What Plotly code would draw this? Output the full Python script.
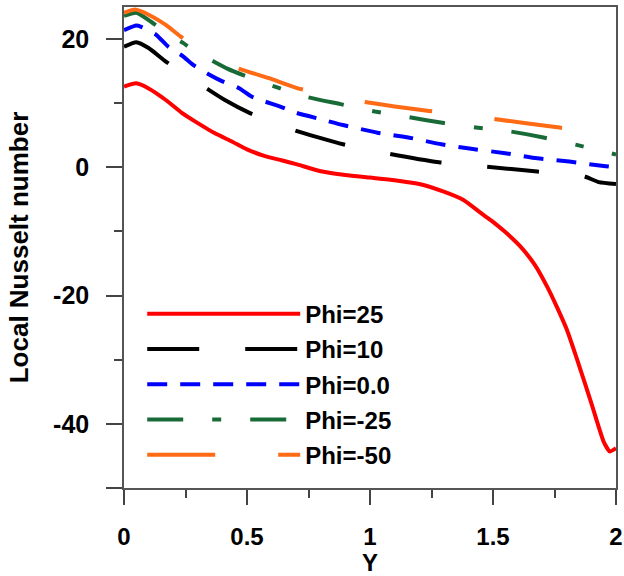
import plotly.graph_objects as go

# Phi = 25
x_p25 = [0, 0.05, 0.1, 0.17, 0.235, 0.3, 0.37, 0.44, 0.5, 0.57, 0.64, 0.7, 0.8, 0.9, 1.0, 1.1, 1.2, 1.3, 1.38, 1.45, 1.5, 1.55, 1.61, 1.67, 1.72, 1.76, 1.8, 1.85, 1.9, 1.95, 1.975, 2.0]
y_p25 = [12.6, 13.1, 12.3, 10.5, 8.5, 6.9, 5.3, 4.0, 2.8, 1.8, 1.1, 0.5, -0.6, -1.2, -1.6, -2.0, -2.6, -3.8, -5.1, -7.1, -8.5, -10.1, -12.3, -15.2, -18.6, -21.8, -25.3, -30.9, -36.8, -42.8, -44.3, -43.8]
# Phi = 10
x_p10 = [0, 0.05, 0.1, 0.17, 0.25, 0.34, 0.41, 0.51, 0.6, 0.7, 0.89, 1.08, 1.28, 1.47, 1.68, 1.87, 1.93, 2.0]
y_p10 = [18.8, 19.5, 18.6, 16.5, 14.5, 12.2, 10.5, 8.5, 7.1, 5.7, 3.6, 2.1, 0.8, 0.1, -0.65, -1.4, -2.3, -2.6]
# Phi = 0.0
x_p0 = [0, 0.05, 0.07, 0.13, 0.18, 0.24, 0.28, 0.34, 0.4, 0.47, 0.52, 0.57, 0.64, 0.7, 0.8, 0.89, 1.03, 1.15, 1.29, 1.39, 1.55, 1.68, 1.81, 1.95, 2.0]
y_p0 = [21.4, 22.1, 21.9, 20.7, 18.8, 17.3, 16.0, 14.6, 13.4, 12.3, 11.0, 10.3, 9.4, 8.5, 7.5, 6.6, 5.4, 4.7, 3.6, 3.0, 2.2, 1.4, 0.9, 0.2, 0.0]
# Phi = -25
x_m25 = [0, 0.05, 0.11, 0.17, 0.24, 0.3, 0.36, 0.42, 0.49, 0.62, 0.74, 0.88, 1.02, 1.16, 1.3, 1.43, 1.57, 1.7, 1.84, 2.0]
y_m25 = [23.6, 24.1, 22.7, 21.0, 19.4, 17.8, 16.6, 15.4, 14.3, 12.5, 11.0, 9.85, 8.7, 7.8, 6.9, 6.2, 5.6, 4.7, 3.5, 2.0]
# Phi = -50
x_m50 = [0, 0.045, 0.1, 0.17, 0.23, 0.3, 0.4, 0.47, 0.59, 0.7, 0.8, 0.97, 1.1, 1.24, 1.5, 1.77, 2.0]
y_m50 = [24.1, 24.6, 23.8, 22.2, 20.4, 18.7, 16.6, 15.35, 13.9, 12.4, 11.5, 10.25, 9.5, 8.8, 7.55, 6.2, 5.0]

names = ["Phi=25", "Phi=10", "Phi=0.0", "Phi=-25", "Phi=-50"]
colors = ["#FF0000", "#000000", "#0000FF", "#186B36", "#FF6A14"]
dashes = ["solid", "52px,46px", "20px,13px", "36px,29px,9px,29px", "68px,63px"]
xs = [x_p25, x_p10, x_p0, x_m25, x_m50]
ys = [y_p25, y_p10, y_p0, y_m25, y_m50]

FONT = "Liberation Sans, Arial, sans-serif"

fig = go.Figure()
for i in range(5):
    fig.add_trace(go.Scatter(
        x=xs[i], y=ys[i], name=names[i], mode="lines",
        line=dict(color=colors[i], width=4, dash=dashes[i], shape="spline", smoothing=0.5),
        legendgroup=names[i],
    ))

fig.update_layout(
    width=624, height=576,
    margin=dict(l=124, r=8, t=7, b=88),
    paper_bgcolor="white", plot_bgcolor="white",
    font=dict(family=FONT, size=24, color="black", weight="bold"),
    showlegend=True,
    legend=dict(
        x=0.037, y=0.408, xanchor="left", yanchor="top",
        bgcolor="rgba(0,0,0,0)", borderwidth=0,
        font=dict(family=FONT, size=24, color="black", weight="bold"),
        itemwidth=153, tracegroupgap=1,
    ),
    xaxis=dict(
        range=[0, 2], tickvals=[0, 0.5, 1, 1.5, 2], ticktext=["0", "0.5", "1", "1.5", "2"],
        ticks="outside", ticklen=15, tickwidth=1.5, tickcolor="#444",
        minor=dict(tickvals=[0.25, 0.75, 1.25, 1.75], ticks="outside", ticklen=8, tickwidth=1.5, tickcolor="#444"),
        showline=True, linecolor="#555", linewidth=1.5, mirror=True,
        showgrid=False, zeroline=False, ticklabelstandoff=11, automargin=False,
        tickfont=dict(family=FONT, size=24, color="black", weight="bold"),
        title=dict(text="Y", font=dict(family=FONT, size=24, color="black", weight="bold"), standoff=7),
    ),
    yaxis=dict(
        range=[-50, 25], tickvals=[-50, -40, -20, 0, 20], ticktext=["", "-40", "-20", "0", "20"],
        ticks="outside", ticklen=16, tickwidth=1.5, tickcolor="#444",
        minor=dict(tickvals=[-30, -10, 10], ticks="outside", ticklen=8, tickwidth=1.5, tickcolor="#444"),
        showline=True, linecolor="#555", linewidth=1.5, mirror=True,
        showgrid=False, zeroline=False, ticklabelstandoff=12, automargin=False,
        tickfont=dict(family=FONT, size=25, color="black", weight="bold"),
        title=dict(text="Local Nusselt number", font=dict(family=FONT, size=26, color="black", weight="bold"), standoff=17),
    ),
)

fig.write_html("out.html")
